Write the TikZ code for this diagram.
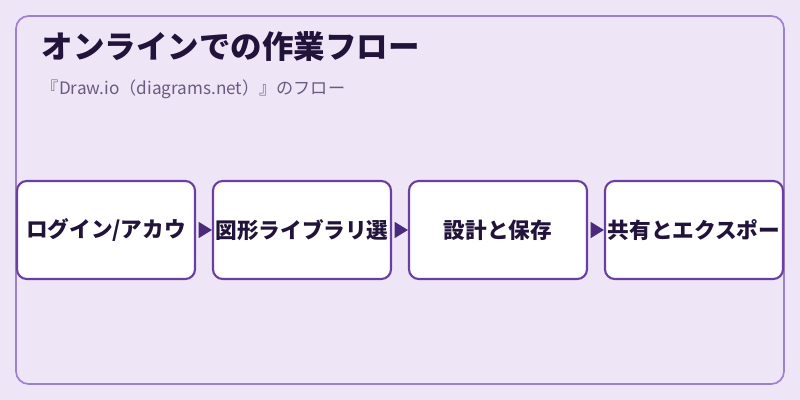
\documentclass[tikz,border=0pt]{standalone}
\usepackage{fontspec}
\setmainfont{Noto Sans CJK JP}
\usetikzlibrary{arrows.meta,positioning}
\definecolor{bgpurple}{HTML}{EEE6F6}
\definecolor{framepurple}{HTML}{A07ED0}
\definecolor{boxpurple}{HTML}{6B3FA0}
\definecolor{arrowpurple}{HTML}{4B2A7A}
\definecolor{titleink}{HTML}{22133A}
\definecolor{subink}{HTML}{6B5A80}

\begin{document}
\begin{tikzpicture}[x=0.025cm,y=-0.025cm,
    stage/.style={draw=boxpurple, line width=1.5pt, fill=white,
      rounded corners=7pt, minimum width=4.45cm, minimum height=2.45cm,
      inner sep=0pt, font=\fontsize{15.4pt}{18pt}\selectfont\bfseries,
      text=titleink},
    flow/.style={-{Triangle[length=9.5pt,width=11.5pt]}, arrowpurple,
      line width=0.8pt, shorten <=2pt}]

      % background and frame
      \fill [bgpurple] (0,0) rectangle (800,400);
      \draw [framepurple, line width=1.2pt, rounded corners=9pt]
      (16,16) rectangle (784,384);

      % heading
      \node [anchor=west, text=titleink,
      font=\fontsize{22.4pt}{26pt}\selectfont\bfseries] (title) at (37,47)
      {オンラインでの作業フロー};
      \node [anchor=west, text=subink,
      font=\fontsize{12.2pt}{14pt}\selectfont] (subtitle) at (37,89)
      {『Draw.io（diagrams.net）』のフロー};

      % stages
      \node [stage] (login) at (106,230) {ログイン/アカウ};
      \node [stage] (library) at (302,230) {図形ライブラリ選};
      \node [stage] (design) at (498,230) {設計と保存};
      \node [stage] (share) at (694,230) {共有とエクスポー};

      % arrows
      \draw [flow] (login) -- (library);
      \draw [flow] (library) -- (design);
      \draw [flow] (design) -- (share);

\end{tikzpicture}
\end{document}
